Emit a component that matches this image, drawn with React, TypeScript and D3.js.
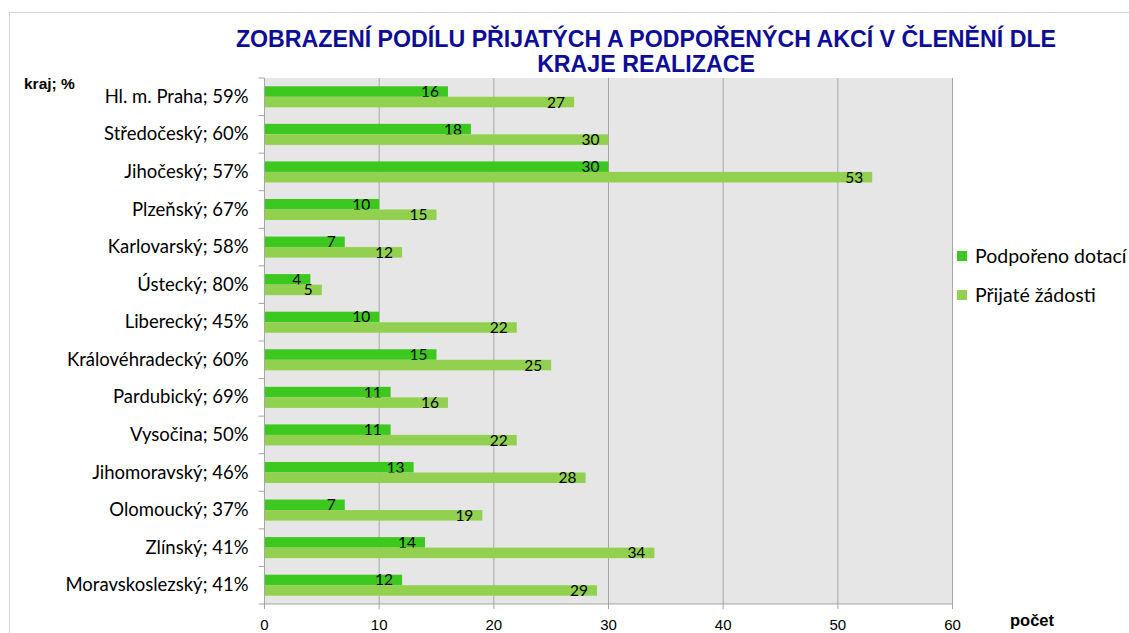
import React from "react";
import * as d3 from "d3";

const W = 1129;
const H = 633;

const categories = [
  "Hl. m. Praha; 59%",
  "Středočeský; 60%",
  "Jihočeský; 57%",
  "Plzeňský; 67%",
  "Karlovarský; 58%",
  "Ústecký; 80%",
  "Liberecký; 45%",
  "Královéhradecký; 60%",
  "Pardubický; 69%",
  "Vysočina; 50%",
  "Jihomoravský; 46%",
  "Olomoucký; 37%",
  "Zlínský; 41%",
  "Moravskoslezský; 41%",
];
const podporeno = [16, 18, 30, 10, 7, 4, 10, 15, 11, 11, 13, 7, 14, 12];
const prijate = [27, 30, 53, 15, 12, 5, 22, 25, 16, 22, 28, 19, 34, 29];
const xTicks = [0, 10, 20, 30, 40, 50, 60];
const seriesNames = ["Podpořeno dotací", "Přijaté žádosti"];
const colors = ["#3dc81f", "#92d050"];

const PLOT = { left: 264.5, right: 952.5, top: 78, bottom: 604 };
const LABEL_FONT = "Lato, 'Open Sans', sans-serif";
const ARIAL = "'Liberation Sans', Arial, sans-serif";

export default function App() {
  const x = d3.scaleLinear().domain([0, 60]).range([PLOT.left, PLOT.right]);
  const y = d3.scaleBand<string>().domain(categories).range([PLOT.top, PLOT.bottom]);
  const bw = y.bandwidth();
  const barH = bw * 0.28;
  const pairTop = (bw - barH * 2) / 2;

  const series = [podporeno, prijate];

  return (
    <svg
      width={W}
      height={H}
      style={{ position: "absolute", left: 0, top: 0, background: "#fff" }}
    >
      <rect x={9.5} y={12.5} width={1300} height={800} fill="#fff" stroke="#d4d4d4" />

      <text
        x={646}
        y={47}
        textAnchor="middle"
        fontFamily={ARIAL}
        fontWeight="bold"
        fontSize={23.2}
        fill="#0d0d99"
      >
        ZOBRAZENÍ PODÍLU PŘIJATÝCH A PODPOŘENÝCH AKCÍ V ČLENĚNÍ DLE
      </text>
      <text
        x={646}
        y={72}
        textAnchor="middle"
        fontFamily={ARIAL}
        fontWeight="bold"
        fontSize={23.2}
        fill="#0d0d99"
      >
        KRAJE REALIZACE
      </text>

      <rect
        x={PLOT.left}
        y={PLOT.top}
        width={PLOT.right - PLOT.left}
        height={PLOT.bottom - PLOT.top}
        fill="#e6e6e6"
      />

      {xTicks.slice(1).map((t) => (
        <line
          key={t}
          x1={x(t)}
          x2={x(t)}
          y1={PLOT.top}
          y2={PLOT.bottom + 5}
          stroke="#a6a6a6"
        />
      ))}

      {series.map((vals, si) =>
        vals.map((v, i) => {
          const yy = (y(categories[i]) as number) + pairTop + si * barH;
          return (
            <g key={`${si}-${i}`}>
              <rect
                x={x(0)}
                y={yy}
                width={x(v) - x(0)}
                height={barH}
                fill={colors[si]}
              />
              <text
                x={x(v) - 9}
                y={yy + barH / 2 + 5.5}
                textAnchor="end"
                fontFamily={LABEL_FONT}
                fontSize={15.5}
                fill="#000"
              >
                {v}
              </text>
            </g>
          );
        })
      )}

      {/* axes */}
      <line x1={PLOT.left} x2={PLOT.left} y1={PLOT.top} y2={PLOT.bottom} stroke="#a6a6a6" />
      <line
        x1={PLOT.left}
        x2={PLOT.right}
        y1={PLOT.bottom}
        y2={PLOT.bottom}
        stroke="#a6a6a6"
      />
      <line
        x1={PLOT.left}
        x2={PLOT.left}
        y1={PLOT.bottom}
        y2={PLOT.bottom + 5}
        stroke="#a6a6a6"
      />
      {categories.map((c) => (
        <line
          key={c}
          x1={PLOT.left - 6}
          x2={PLOT.left}
          y1={y(c) as number}
          y2={y(c) as number}
          stroke="#a6a6a6"
        />
      ))}
      <line
        x1={PLOT.left - 6}
        x2={PLOT.left}
        y1={PLOT.bottom}
        y2={PLOT.bottom}
        stroke="#a6a6a6"
      />

      {categories.map((c) => (
        <text
          key={c}
          x={PLOT.left - 16}
          y={(y(c) as number) + bw / 2 + 6}
          textAnchor="end"
          fontFamily={LABEL_FONT}
          fontSize={18.5}
          fill="#000"
        >
          {c}
        </text>
      ))}

      {xTicks.map((t) => (
        <text
          key={t}
          x={x(t)}
          y={630}
          textAnchor="middle"
          fontFamily={ARIAL}
          fontSize={15}
          fill="#000"
        >
          {t}
        </text>
      ))}

      <text x={24} y={89} fontFamily={ARIAL} fontWeight="bold" fontSize={15.5} fill="#000">
        kraj; %
      </text>
      <text x={1010} y={626} fontFamily={ARIAL} fontWeight="bold" fontSize={16.5} fill="#000">
        počet
      </text>

      {seriesNames.map((n, i) => (
        <g key={n}>
          <rect x={957} y={251 + i * 39} width={10} height={10} fill={colors[i]} />
          <text
            x={975}
            y={263 + i * 39}
            fontFamily={LABEL_FONT}
            fontSize={19.5}
            fill="#000"
          >
            {n}
          </text>
        </g>
      ))}
    </svg>
  );
}
